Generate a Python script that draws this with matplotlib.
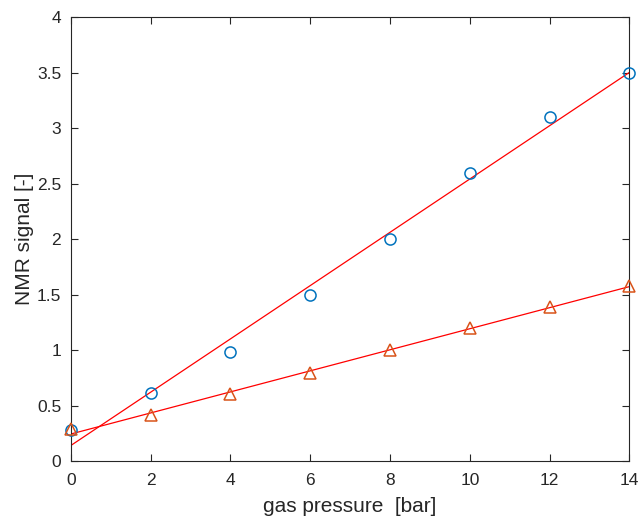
import numpy as np
import matplotlib
matplotlib.use("Agg")
import matplotlib.pyplot as plt
from matplotlib.ticker import FuncFormatter

plt.rcParams['font.family'] = ['Liberation Sans', 'DejaVu Sans']

pressure = [0, 2, 4, 6, 8, 10, 12, 14]
signal_a = [0.28, 0.61, 0.98, 1.50, 2.00, 2.60, 3.10, 3.50]
signal_b = [0.29, 0.41, 0.60, 0.79, 1.00, 1.20, 1.39, 1.58]
xticks = [0, 2, 4, 6, 8, 10, 12, 14]
yticks = [0, 0.5, 1, 1.5, 2, 2.5, 3, 3.5, 4]

fig = plt.figure(figsize=(6.39, 5.21), dpi=100)
ax = fig.add_axes([0.111, 0.1152, 0.874, 0.8518])

x = np.array(pressure, dtype=float)
for ys in (signal_a, signal_b):
    c = np.polyfit(x, np.array(ys), 1)
    xf = np.array([x.min(), x.max()])
    ax.plot(xf, np.polyval(c, xf), color='#FF0000', lw=0.9, zorder=2)

ax.plot(pressure, signal_a, 'o', mfc='none', mec='#0072BD', ms=8, mew=1.1, zorder=3, clip_on=False)
ax.plot(pressure, signal_b, '^', mfc='none', mec='#D95319', ms=8.5, mew=1.1, zorder=3, clip_on=False)

ax.set_xlim(0, 14)
ax.set_ylim(0, 4)
ax.set_xticks(xticks)
ax.set_yticks(yticks)
ax.yaxis.set_major_formatter(FuncFormatter(lambda v, p: f"{v:g}"))
ax.tick_params(direction='in', length=5, width=0.8, colors='#262626', labelsize=12.5,
               top=True, right=True)
ax.tick_params(axis='x', pad=9)
ax.tick_params(axis='y', pad=7)
for s in ax.spines.values():
    s.set_color('#262626')
    s.set_linewidth(0.8)
ax.set_xlabel('gas pressure  [bar]', fontsize=15, color='#262626', labelpad=6)
ax.set_ylabel('NMR signal [-]', fontsize=15, color='#262626', labelpad=2)

fig.savefig('out.png', dpi=100)
